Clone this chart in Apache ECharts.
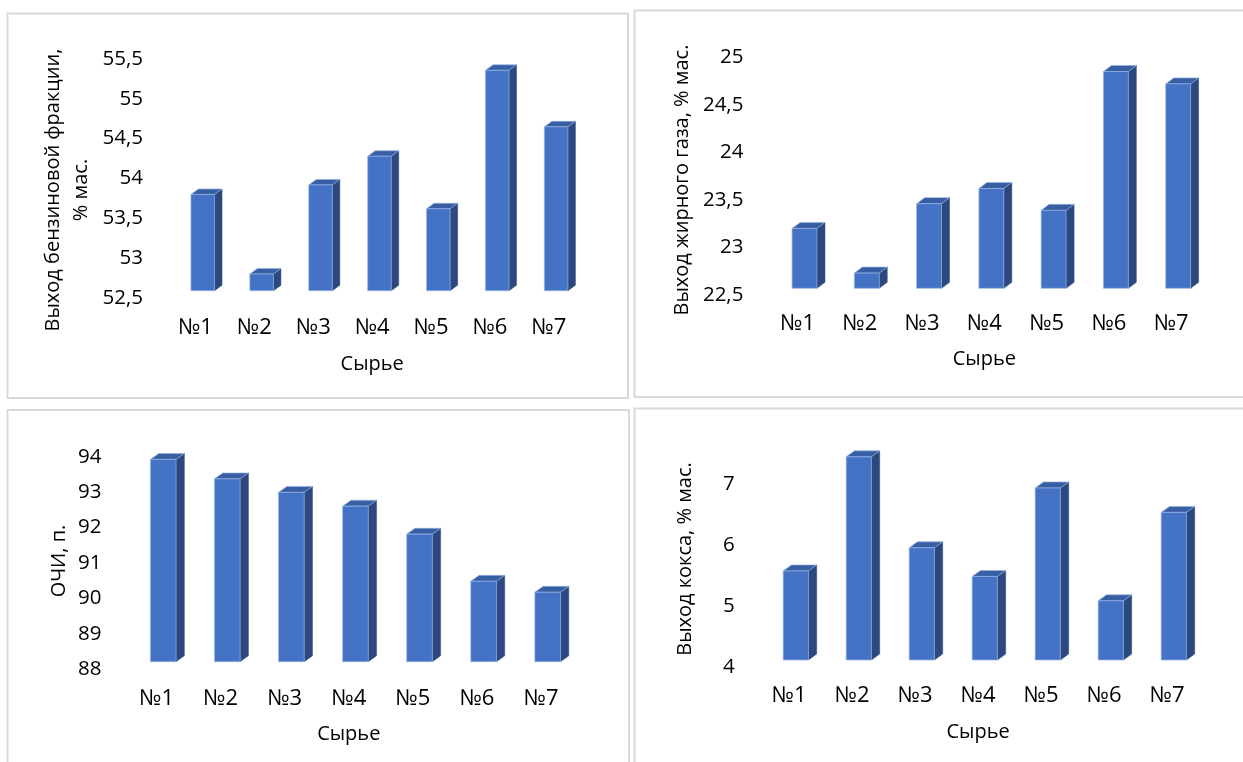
<!DOCTYPE html>
<html>
<head>
<meta charset="utf-8">
<script src="https://cdn.jsdelivr.net/npm/echarts@6/dist/echarts.min.js"></script>
<style>
  html, body { margin: 0; padding: 0; background: #ffffff; }
  #chart { width: 1243px; height: 762px; }
</style>
</head>
<body>
<div id="chart"></div>
<script>
// Feedstock samples
const categories = ['№1', '№2', '№3', '№4', '№5', '№6', '№7'];

// Measured values per sample
const gasolineYield = [53.71, 52.71, 53.83, 54.19, 53.53, 55.27, 54.56];
const fatGasYield   = [23.13, 22.66, 23.39, 23.55, 23.32, 24.78, 24.65];
const octaneNumber  = [93.71, 93.16, 92.78, 92.39, 91.60, 90.27, 89.96];
const cokeYield     = [5.46, 7.33, 5.84, 5.37, 6.82, 4.97, 6.42];

// Value-axis tick labels
const gasolineTicks = [52.5, 53, 53.5, 54, 54.5, 55, 55.5];
const fatGasTicks   = [22.5, 23, 23.5, 24, 24.5, 25];
const octaneTicks   = [88, 89, 90, 91, 92, 93, 94];
const cokeTicks     = [4, 5, 6, 7];

// Axis titles
const xTitle = 'Сырье';
const gasolineTitle = 'Выход бензиновой фракции,\n% мас.';
const fatGasTitle   = 'Выход жирного газа, % мас.';
const octaneTitle   = 'ОЧИ, п.';
const cokeTitle     = 'Выход кокса, % мас.';

const FONT = '"Open Sans", "Noto Sans", sans-serif';
const TEXT = '#000000';
const FRONT = '#4472c4';
const SIDE = '#2b497e';
const TOP = '#385ea4';
const EDGE = 'rgba(150,178,228,0.85)';

// Panel layout: plot rectangles, axis extents, label gaps and 3-D column geometry
const panels = [
  { values: gasolineYield, ticks: gasolineTicks, min: 52.5, max: 55.5, title: gasolineTitle,
    grid: { left: 166, top: 59, width: 412.3, height: 238.7 },
    labelGap: 30.3, nameGap: 66.3, titlePos: [67, 190],
    shift: [7.3, 7], depth: [7.5, 5.5] },
  { values: fatGasYield, ticks: fatGasTicks, min: 22.5, max: 25, title: fatGasTitle,
    grid: { left: 766.4, top: 57.3, width: 435.9, height: 237.7 },
    labelGap: 28.3, nameGap: 64, titlePos: [682.7, 180],
    shift: [7, 6.7], depth: [8, 6] },
  { values: octaneNumber, ticks: octaneTicks, min: 88, max: 94, title: octaneTitle,
    grid: { left: 124.5, top: 456.7, width: 448.5, height: 212.6 },
    labelGap: 29, nameGap: 64.7, titlePos: [59.3, 561],
    shift: [6.7, 7.6], depth: [8.3, 5.9] },
  { values: cokeYield, ticks: cokeTicks, min: 4, max: 7.5, title: cokeTitle,
    grid: { left: 757.6, top: 453.8, width: 441, height: 213.5 },
    labelGap: 28.5, nameGap: 65.2, titlePos: [685.7, 559],
    shift: [6.7, 7.3], depth: [8.3, 6] }
];

// Panel frames
const frames = [
  { x: 7.5, y: 13.5, width: 620.5, height: 384.5 },
  { x: 634.5, y: 10.5, width: 640, height: 386.5 },
  { x: 7.5, y: 410, width: 621.5, height: 380 },
  { x: 634.5, y: 408.5, width: 640, height: 380 }
];

function column3d(minVal, shift, depth) {
  return function (params, api) {
    const i = api.value(0);
    const v = api.value(1);
    const topPt = api.coord([i, v]);
    const basePt = api.coord([i, minVal]);
    const band = api.size([1, 0])[0];
    const w = band * 0.4;
    const x0 = topPt[0] + shift[0] - w / 2;
    const x1 = x0 + w;
    const yT = topPt[1] - shift[1];
    const yB = basePt[1] - shift[1];
    const dx = depth[0], dy = depth[1];
    return {
      type: 'group',
      children: [
        { type: 'polygon',
          shape: { points: [[x1, yB], [x1 + dx, yB - dy], [x1 + dx, yT - dy], [x1, yT]] },
          style: { fill: SIDE, stroke: SIDE, lineWidth: 0.5 } },
        { type: 'polygon',
          shape: { points: [[x0, yT], [x1, yT], [x1 + dx, yT - dy], [x0 + dx, yT - dy]] },
          style: { fill: TOP, stroke: EDGE, lineWidth: 0.8 } },
        { type: 'rect',
          shape: { x: x0, y: yT, width: w, height: yB - yT },
          style: { fill: FRONT, stroke: EDGE, lineWidth: 0.8 } }
      ]
    };
  };
}

const fmt = v => String(v).replace('.', ',');

const option = {
  animation: false,
  backgroundColor: '#ffffff',
  textStyle: { fontFamily: FONT, color: TEXT },
  grid: panels.map(p => Object.assign({ outerBoundsMode: 'none', containLabel: false }, p.grid)),
  xAxis: panels.map((p, k) => ({
    type: 'category',
    gridIndex: k,
    data: categories,
    axisLine: { show: false },
    axisTick: { show: false },
    splitLine: { show: false },
    axisLabel: { margin: p.labelGap, verticalAlign: 'middle', fontSize: 22, color: TEXT, fontFamily: FONT },
    name: xTitle,
    nameLocation: 'middle',
    nameGap: p.nameGap,
    nameTextStyle: { fontSize: 20, color: TEXT, fontFamily: FONT, verticalAlign: 'middle' }
  })),
  yAxis: panels.map((p, k) => ({
    type: 'value',
    gridIndex: k,
    min: p.min,
    max: p.max,
    axisLine: { show: false },
    axisTick: { show: false },
    splitLine: { show: false },
    axisLabel: {
      margin: 23, fontSize: 20.5, color: TEXT, fontFamily: FONT,
      customValues: p.ticks, formatter: fmt
    }
  })),
  series: panels.map((p, k) => ({
    type: 'custom',
    xAxisIndex: k,
    yAxisIndex: k,
    renderItem: column3d(p.min, p.shift, p.depth),
    encode: { x: 0, y: 1 },
    data: categories.map((c, i) => [i, p.values[i]])
  })),
  graphic: [
    ...frames.map(f => ({
      type: 'rect', z: -10, silent: true,
      shape: f,
      style: { fill: null, stroke: '#d9d9d9', lineWidth: 2 }
    })),
    ...panels.map(p => ({
      type: 'text', silent: true,
      x: p.titlePos[0], y: p.titlePos[1],
      rotation: Math.PI / 2,
      style: {
        text: p.title, fill: TEXT,
        font: '20px ' + FONT,
        textAlign: 'center', textVerticalAlign: 'middle',
        align: 'center', verticalAlign: 'middle',
        lineHeight: 28
      }
    }))
  ]
};

const chart = echarts.init(document.getElementById('chart'), null, { renderer: 'canvas' });
chart.setOption(option);
</script>
</body>
</html>
